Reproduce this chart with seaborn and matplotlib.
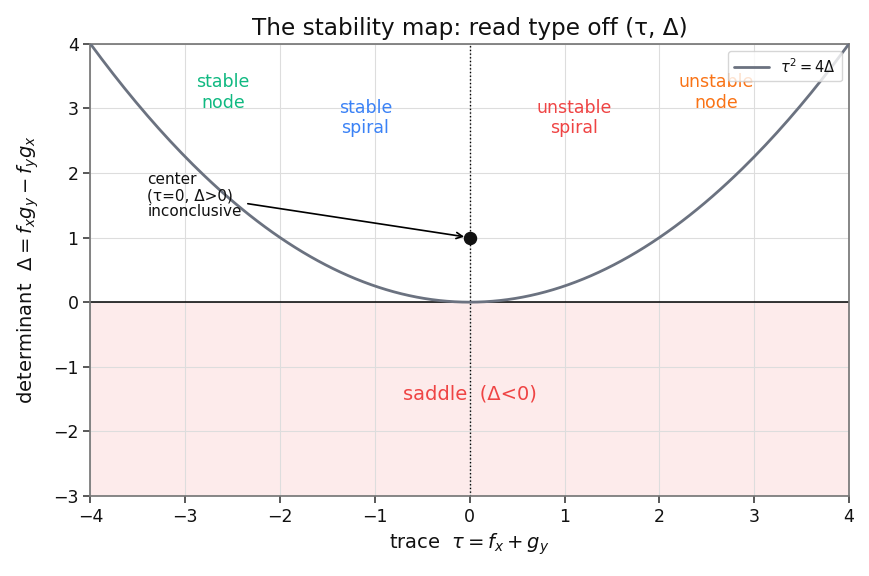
import numpy as np
import pandas as pd
import matplotlib
matplotlib.use("Agg")
import matplotlib.pyplot as plt
import seaborn as sns

# region labels: (text, tau, delta, colour)
region_text = ["stable\nnode", "stable\nspiral", "unstable\nspiral", "unstable\nnode"]
region_tau = [-2.6, -1.1, 1.1, 2.6]
region_delta = [3.25, 2.85, 2.85, 3.25]
region_color = ["#10b981", "#3b82f6", "#ef4444", "#f97316"]

# boundary curve tau^2 = 4*Delta
tau = np.linspace(-4, 4, 201)
boundary = pd.DataFrame({"tau": tau, "delta": tau ** 2 / 4})

center_pt = (0, 1)

sns.set_theme(style="whitegrid", context="notebook")
plt.rcParams["axes.edgecolor"] = "#777777"
plt.rcParams["xtick.bottom"] = True
plt.rcParams["ytick.left"] = True
plt.rcParams["text.color"] = "#111111"
plt.rcParams["axes.labelcolor"] = "#111111"
plt.rcParams["xtick.labelcolor"] = "#111111"
plt.rcParams["ytick.labelcolor"] = "#111111"
plt.rcParams["grid.color"] = "#dddddd"
plt.rcParams["grid.linewidth"] = 0.8

fig, ax = plt.subplots(figsize=(8.69, 5.76), dpi=100)

# saddle region
ax.axhspan(-3, 0, color="#ef4444", alpha=0.1, lw=0, zorder=0)
ax.axhline(0, color="black", lw=1.1, zorder=2)
ax.axvline(0, color="black", lw=1, ls=":", zorder=2)

sns.lineplot(data=boundary, x="tau", y="delta", color="#6b7280", lw=2,
             label=r"$\tau^2 = 4\Delta$", ax=ax, zorder=3)

for t, x, y, c in zip(region_text, region_tau, region_delta, region_color):
    ax.text(x, y, t, color=c, ha="center", va="center", fontsize=12.5)

ax.text(0, -1.42, "saddle  (Δ<0)", color="#ef4444", ha="center", va="center", fontsize=14)

ax.scatter([center_pt[0]], [center_pt[1]], color="#111111", s=75, zorder=5)
ax.annotate("center\n(τ=0, Δ>0)\ninconclusive", xy=center_pt, xytext=(-3.4, 1.65),
            ha="left", va="center", fontsize=11, linespacing=1.1,
            arrowprops=dict(arrowstyle="->", color="black", lw=1.2, shrinkB=4))

ax.set_xlim(-4, 4)
ax.set_ylim(-3, 4)
ax.set_xlabel(r"trace  $\tau = f_x + g_y$", fontsize=14)
ax.set_ylabel(r"determinant  $\Delta = f_x g_y - f_y g_x$", fontsize=14, labelpad=9)
ax.set_title("The stability map: read type off (τ, Δ)", fontsize=16.7)
ax.tick_params(labelsize=12.5, length=5, color="#444444")
ax.legend(loc="upper right", fontsize=10.5, handlelength=2.4)

fig.subplots_adjust(left=0.104, right=0.977, top=0.924, bottom=0.139)
fig.savefig("out.png")
